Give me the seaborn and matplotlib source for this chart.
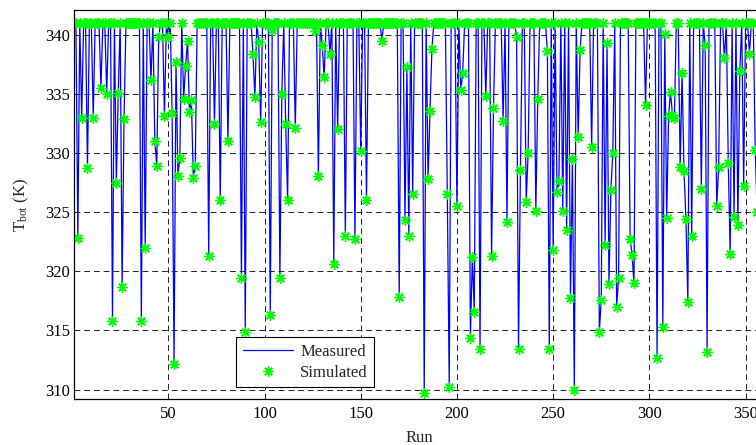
import numpy as np
import pandas as pd
import matplotlib
matplotlib.use("Agg")
import matplotlib.pyplot as plt
import seaborn as sns

# ---- data ----
n_runs = 360
baseline_K = 341.0
dip_runs = [3, 5, 8, 11, 15, 18, 21, 23, 24, 26, 27, 36, 38, 41, 43, 44, 45, 48, 50,
            52, 53, 54, 55, 56, 58, 59, 60, 61, 62, 63, 64, 71, 74, 77, 81, 88, 90,
            94, 95, 97, 98, 103, 104, 108, 109, 111, 112, 116, 126, 128, 130, 131,
            134, 136, 138, 142, 147, 150, 153, 161, 170, 173, 174, 175, 177, 183,
            185, 186, 187, 195, 196, 200, 202, 203, 207, 208, 209, 212, 215, 218,
            219, 224, 226, 231, 232, 233, 236, 237, 241, 242, 247, 248, 250, 252,
            253, 255, 257, 259, 260, 261, 263, 264, 270, 274, 275, 277, 278, 279,
            280, 281, 283, 284, 290, 291, 292, 298, 304, 307, 308, 309, 310, 311,
            312, 313, 316, 317, 318, 319, 320, 322, 327, 329, 330, 335, 336, 339,
            341, 342, 344, 346, 347, 349, 352, 355, 356]
dip_values = [322.8, 333.0, 328.7, 333.0, 335.5, 335.0, 315.8, 327.5, 335.1, 318.7,
              332.9, 315.8, 322.0, 336.2, 331.0, 328.9, 339.8, 333.1, 339.8, 333.4,
              312.2, 337.7, 328.1, 329.6, 334.6, 337.4, 339.5, 333.5, 334.5, 327.9,
              328.9, 321.3, 332.5, 326.0, 331.0, 319.4, 314.9, 338.4, 334.7, 339.4,
              332.6, 316.3, 340.4, 319.4, 335.0, 332.5, 326.0, 332.1, 340.3, 328.1,
              339.1, 336.4, 338.4, 320.6, 332.0, 323.0, 322.7, 330.2, 326.0, 339.5,
              317.8, 324.3, 337.3, 323.0, 326.5, 309.7, 327.8, 333.6, 338.8, 326.5,
              310.2, 325.5, 335.3, 336.8, 314.4, 321.2, 316.6, 313.4, 334.8, 321.3,
              333.8, 332.7, 324.2, 339.8, 313.4, 328.6, 325.9, 330.0, 325.1, 334.6,
              338.6, 313.4, 321.8, 326.7, 327.6, 325.1, 323.5, 317.7, 329.5, 310.0,
              331.4, 338.7, 330.5, 314.9, 317.6, 322.2, 339.3, 318.9, 326.9, 330.0,
              317.0, 319.4, 322.7, 321.4, 319.0, 334.1, 312.7, 315.3, 340.1, 324.5,
              333.1, 335.2, 333.2, 333.0, 328.8, 336.8, 328.5, 324.4, 317.4, 323.0,
              327.0, 339.1, 313.2, 325.5, 328.8, 338.0, 329.2, 321.5, 324.6, 323.9,
              336.9, 327.2, 338.4, 330.3, 325.0]

runs = np.arange(1, n_runs + 1)
measured = np.full(n_runs, baseline_K)
for r, v in zip(dip_runs, dip_values):
    measured[r - 1] = v
simulated = measured.copy()

df = pd.DataFrame({"Run": runs, "Measured": measured, "Simulated": simulated})

x_ticks = [50, 100, 150, 200, 250, 300, 350]
y_ticks = [310, 315, 320, 325, 330, 335, 340]

# ---- style ----
sns.set_style("white")
plt.rcParams["font.family"] = ["Liberation Serif", "DejaVu Serif"]
plt.rcParams["mathtext.fontset"] = "custom"
plt.rcParams["mathtext.rm"] = "Liberation Serif"
plt.rcParams["mathtext.it"] = "Liberation Serif:italic"

W, H = 756, 445
fig = plt.figure(figsize=(W / 100, H / 100), dpi=100)
ax_left, ax_top, ax_bottom = 74, 10, 399
px_per_run = 1.9243
ax_right = ax_left + (n_runs - 1) * px_per_run
ax = fig.add_axes([ax_left / W, 1 - ax_bottom / H,
                   (ax_right - ax_left) / W, (ax_bottom - ax_top) / H])

sns.lineplot(data=df, x="Run", y="Measured", ax=ax, color="#0000ff",
             linewidth=0.9, estimator=None, sort=False, label="Measured")
sns.lineplot(data=df, x="Run", y="Simulated", ax=ax, color="#00ff00",
             linestyle="", marker=(8, 2, 0), markersize=7.5, markeredgewidth=1.0,
             markeredgecolor="#00ff00", estimator=None, sort=False,
             label="Simulated")

ax.set_xlim(1, n_runs)
ax.set_ylim(309.2, 342.1)
ax.set_xticks(x_ticks)
ax.set_yticks(y_ticks)
ax.tick_params(axis="both", direction="in", length=4, width=0.8,
               top=True, right=True, labelsize=12, colors="black")
ax.tick_params(axis="y", pad=3)
ax.tick_params(axis="x", pad=5)
ax.grid(True, color="#222222", linestyle=(0, (6, 4)), linewidth=0.7)
ax.set_axisbelow(True)
for s in ax.spines.values():
    s.set_color("black")
    s.set_linewidth(0.9)

ax.set_xlabel("Run", fontsize=12, labelpad=6)
ax.set_ylabel(r"T$_{\rm bot}$ (K)", fontsize=12, labelpad=10)

leg = ax.legend(loc="lower left", bbox_to_anchor=(0.2345, 0.03),
                borderaxespad=0, fontsize=12, frameon=True, fancybox=False,
                framealpha=1, edgecolor="black", handlelength=3.0,
                handletextpad=0.45, borderpad=0.4, labelspacing=0.3)
leg.get_frame().set_linewidth(0.8)

fig.savefig("out.png", dpi=100)
